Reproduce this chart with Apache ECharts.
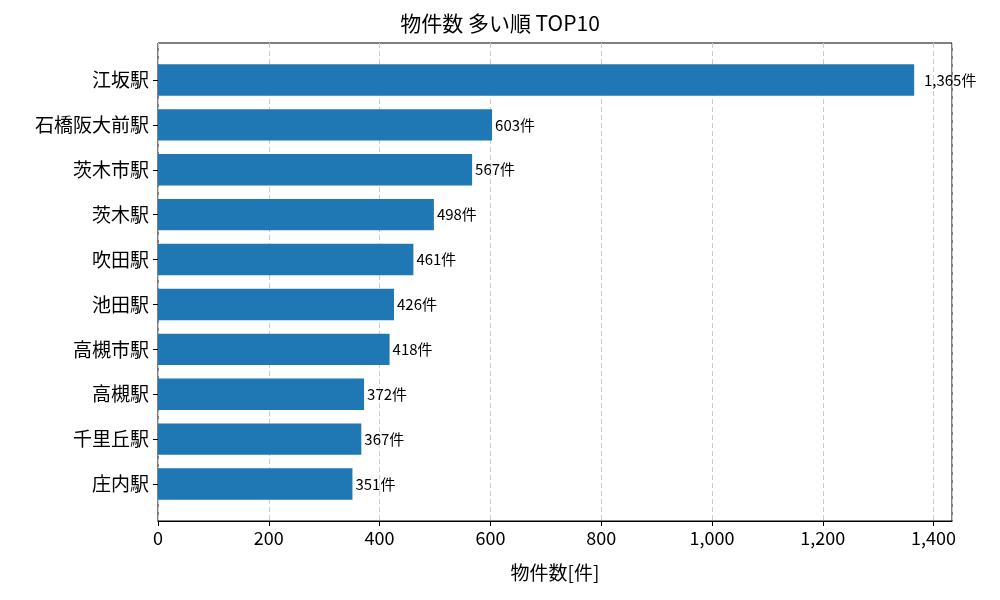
<!DOCTYPE html>
<html><head><meta charset="utf-8">
<script src="https://cdn.jsdelivr.net/npm/echarts@6/dist/echarts.min.js"></script>
<style>body{margin:0}#c{width:1000px;height:600px}</style></head>
<body><div id="c"></div>
<script>
const categories = ["江坂駅","石橋阪大前駅","茨木市駅","茨木駅","吹田駅","池田駅","高槻市駅","高槻駅","千里丘駅","庄内駅"];
const counts = [1365,603,567,498,461,426,418,372,367,351];
const xMax = 1433.25;
const F = "Noto Sans CJK JP";
const chart = echarts.init(document.getElementById('c'));
chart.setOption({
  animation:false,
  textStyle:{fontFamily:F},
  title:{text:"物件数 多い順 TOP10",left:'center',top:8,textStyle:{fontFamily:F,fontSize:21,fontWeight:'normal',color:'#000'}},
  grid:[
    {left:158,right:48,top:43,bottom:79,show:true,borderColor:'#000',borderWidth:1,backgroundColor:'transparent'},
    {left:158,right:48,top:57.5,bottom:93.5}
  ],
  xAxis:[
    {gridIndex:0,type:'value',min:0,max:xMax,interval:200,
     axisLine:{show:true,lineStyle:{color:'#000'}},axisTick:{show:true,length:5,lineStyle:{color:'#000'}},
     axisLabel:{fontSize:18,color:'#000',showMaxLabel:false,margin:8},
     splitLine:{show:true,lineStyle:{type:[5,3],color:'#ccc'}},
     name:'物件数[件]',nameLocation:'middle',nameGap:42,nameTextStyle:{fontSize:19,color:'#000'}},
    {gridIndex:1,type:'value',min:0,max:xMax,show:false}
  ],
  yAxis:[
    {gridIndex:0,type:'value',show:false},
    {gridIndex:1,type:'category',data:categories,inverse:true,
     axisLine:{show:false},axisTick:{show:true,alignWithLabel:true,length:5,lineStyle:{color:'#000'}},
     axisLabel:{fontSize:19,color:'#000',margin:9}}
  ],
  series:[{type:'bar',xAxisIndex:1,yAxisIndex:1,data:counts,barWidth:'70%',
    itemStyle:{color:'#1f77b4'},
    label:{show:true,position:'right',distance:3,fontSize:15,color:'#000',
      formatter:p=>(p.value>=1000?'  ':'')+p.value.toLocaleString('en-US')+'件'}}]
});
</script></body></html>
